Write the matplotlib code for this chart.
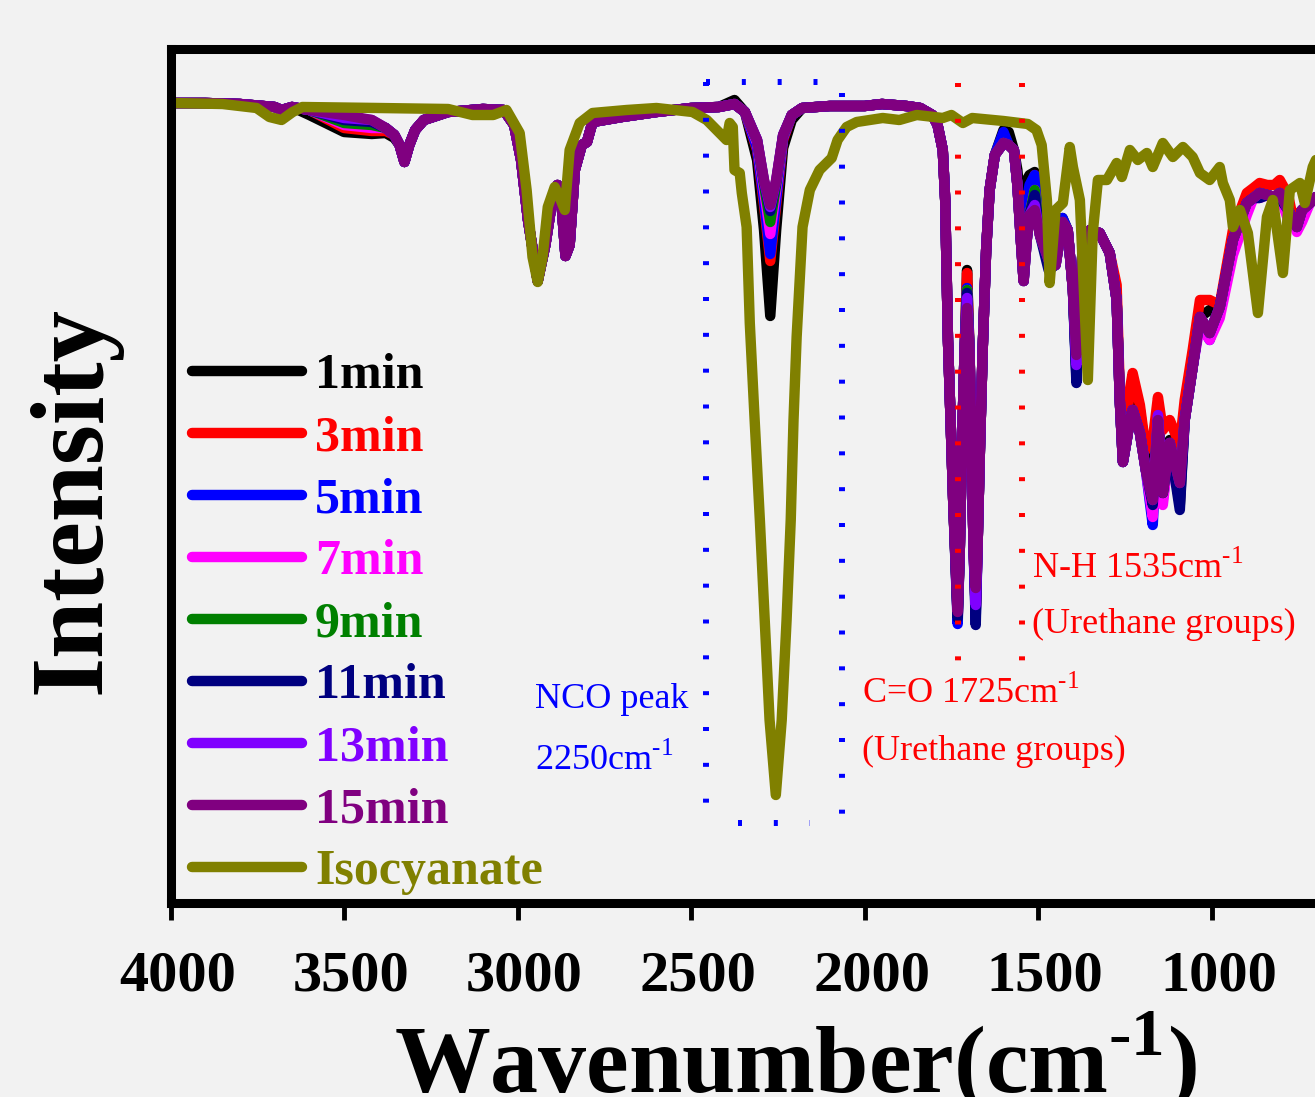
import matplotlib
matplotlib.use('Agg')
import matplotlib.pyplot as plt
import matplotlib.transforms as mtrans

plt.rcParams['font.family'] = ['Liberation Serif', 'DejaVu Serif']
plt.rcParams['mathtext.fontset'] = 'custom'
plt.rcParams['mathtext.rm'] = 'Liberation Serif'
plt.rcParams['mathtext.bf'] = 'Liberation Serif:bold'

# ---------------- data (wavenumber cm-1, intensity a.u.) ----------------
wn_cure = [4000, 3900, 3800, 3700, 3680, 3650, 3600, 3500, 3420, 3380, 3355, 3340, 3326, 3312, 3295,
           3270, 3200, 3100, 3040, 3010, 2990, 2970, 2942, 2920, 2900, 2885, 2872, 2862, 2850, 2835,
           2815, 2800, 2784, 2700, 2600, 2500, 2420, 2375, 2345, 2310, 2290, 2272, 2255, 2235, 2210,
           2180, 2100, 2000, 1950, 1880, 1840, 1805, 1790, 1775, 1768, 1760, 1745, 1732, 1726, 1720,
           1712, 1705, 1698, 1692, 1686, 1680, 1675, 1668, 1660, 1650, 1640, 1625, 1600, 1585, 1570,
           1560, 1550, 1542, 1533, 1525, 1510, 1495, 1470, 1450, 1430, 1415, 1400, 1390, 1380, 1370,
           1350, 1323, 1294, 1274, 1265, 1256, 1245, 1236, 1228, 1207, 1190, 1170, 1155, 1141, 1121,
           1092, 1078, 1055, 1034, 1006, 977, 939, 899, 880, 862, 840, 820, 804, 780, 765,
           755, 740, 717, 700]

int_15min = [807, 807, 806, 803, 800, 803, 800, 795, 790, 782, 775, 765, 748, 765, 780,
             790, 798, 801, 800, 785, 750, 690, 629, 665, 710, 725, 700, 654, 665, 740,
             765, 768, 788, 793, 798, 802, 803, 806, 798, 770, 730, 705, 730, 775, 795,
             802, 804, 804, 806, 804, 802, 795, 785, 760, 710, 570, 410, 298, 360, 460,
             560, 602, 560, 460, 360, 322, 360, 460, 560, 660, 720, 755, 767, 765, 760,
             725, 670, 629, 670, 695, 700, 675, 650, 645, 688, 680, 620, 555, 610, 675,
             680, 677, 657, 610, 510, 448, 470, 490, 500, 477, 440, 410, 490, 417, 467,
             427, 490, 543, 593, 577, 603, 670, 707, 712, 717, 715, 713, 717, 700, 690,
             683, 700, 707, 713]

# readings where the earlier scans differ from the 15 min scan
dev_1min = {3600: 795, 3500: 778, 3420: 776, 3380: 777, 3355: 772, 2375: 810,
            2310: 750, 2290: 680, 2272: 594, 2255: 680, 2235: 762, 2210: 790,
            1732: 292, 1705: 640, 1680: 298, 1600: 780, 1585: 778,
            1560: 740, 1550: 700, 1542: 640, 1533: 730, 1525: 735, 1510: 738, 1495: 700,
            1450: 690, 1430: 692, 1390: 535, 1228: 520, 1207: 500, 1190: 455, 1170: 420,
            1155: 500, 1141: 425, 1121: 470, 1092: 405, 1006: 600}
dev_3min = {3500: 782, 3420: 779, 3380: 779,
            2310: 760, 2290: 705, 2272: 649, 2255: 705, 2235: 770,
            1732: 290, 1705: 637, 1680: 298, 1600: 775,
            1533: 700, 1525: 715, 1510: 735, 1495: 690, 1450: 688, 1390: 550,
            1274: 625, 1265: 520, 1256: 455, 1245: 490, 1236: 520, 1228: 537, 1207: 505,
            1190: 460, 1170: 470, 1155: 513, 1141: 480, 1121: 490, 1092: 465, 1078: 510,
            1055: 560, 1034: 610, 1006: 610, 977: 605, 939: 680, 899: 717, 880: 722,
            862: 727, 840: 725, 820: 725, 804: 730, 780: 715, 755: 695}
dev_5min = {3500: 786, 3420: 783,
            2310: 762, 2290: 710, 2272: 656, 2255: 710, 2235: 772,
            1732: 286, 1705: 622, 1680: 292, 1600: 778,
            1533: 710, 1525: 725, 1510: 735, 1495: 690, 1450: 690, 1430: 692, 1390: 532,
            1170: 385, 1141: 410, 1092: 415, 1034: 588, 1006: 570, 755: 680}
dev_7min = {3500: 785, 3420: 782,
            2310: 767, 2290: 720, 2272: 676, 2255: 720, 2235: 773,
            1732: 298, 1705: 620, 1680: 300, 1510: 720, 1390: 540,
            1170: 393, 1141: 405, 1092: 420, 1034: 585, 1006: 570, 977: 592, 939: 655,
            899: 695, 862: 712, 804: 715, 780: 690, 755: 678, 740: 688}
dev_9min = {3500: 787, 3420: 785,
            2310: 769, 2290: 725, 2272: 688, 2255: 725, 2235: 774,
            1705: 620, 1510: 720, 1390: 538, 1170: 415}
dev_11min = {3500: 790, 3420: 788,
             2310: 770, 2290: 728, 2272: 699, 2255: 728, 2235: 775,
             1732: 292, 1705: 617, 1680: 285, 1510: 715, 1470: 640, 1390: 527,
             1170: 405, 1092: 400, 862: 712, 804: 712}
dev_13min = {3500: 792, 2290: 729, 2272: 703, 2255: 729,
             1732: 302, 1705: 612, 1680: 305, 1510: 705, 1390: 545,
             1228: 500, 1155: 495, 1141: 420}

wn_iso = [4000, 3850, 3752, 3715, 3680, 3648, 3620, 3400, 3200, 3130, 3070, 3032, 2994, 2974,
          2957, 2942, 2928, 2913, 2893, 2879, 2864, 2850, 2821, 2784, 2686, 2600, 2496, 2455,
          2398, 2389, 2380, 2375, 2360, 2354, 2340, 2331, 2317, 2302, 2288, 2274, 2256, 2239,
          2225, 2213, 2205, 2196, 2179, 2158, 2130, 2095, 2078, 2052, 2023, 1948, 1900, 1850,
          1775, 1750, 1717, 1690, 1600, 1530, 1505, 1490, 1475, 1467, 1450, 1429, 1409, 1400,
          1380, 1357, 1343, 1328, 1302, 1274, 1259, 1236, 1213, 1187, 1170, 1141, 1112, 1083,
          1055, 1034, 1006, 977, 968, 948, 939, 919, 896, 867, 841, 824, 795, 775, 746, 732,
          709, 700]
int_iso = [807, 806, 802, 793, 790, 798, 803, 802, 801, 795, 795, 800, 777, 720,
           653, 628, 653, 703, 723, 713, 700, 760, 787, 797, 800, 802, 798, 790,
           770, 787, 783, 740, 737, 717, 683, 587, 490, 390, 290, 190, 115, 190,
           290, 390, 490, 573, 683, 720, 740, 752, 770, 783, 788, 792, 790, 795,
           792, 795, 787, 792, 789, 786, 780, 765, 710, 627, 700, 707, 763, 743,
           710, 530, 677, 730, 730, 747, 733, 760, 750, 757, 743, 767, 753, 763,
           753, 737, 730, 743, 727, 710, 683, 700, 677, 597, 693, 710, 637, 720, 727, 707,
           743, 750]

labels = ['1min', '3min', '5min', '7min', '9min', '11min', '13min', '15min']
colors = ['#000000', '#FF0000', '#0000FF', '#FF00FF', '#008000', '#000080', '#8000FF', '#800080']
devs = [dev_1min, dev_3min, dev_5min, dev_7min, dev_9min, dev_11min, dev_13min, {}]

tick_vals = [4000, 3500, 3000, 2500, 2000, 1500, 1000]

# ---------------- figure ----------------
W, H = 1315, 1097
bg = '#F2F2F2'
fig = plt.figure(figsize=(W / 100, H / 100), dpi=100, facecolor=bg)
ax = fig.add_axes([170.5 / W, 1 - 903 / H, 1249.5 / W, 854 / H])
ax.set_facecolor(bg)

for lab, col, dev in zip(labels, colors, devs):
    vals = [dev.get(w, v) for w, v in zip(wn_cure, int_15min)]
    ax.plot(wn_cure, vals, color=col, lw=7.5, label=lab,
            solid_joinstyle='round', solid_capstyle='round')
ax.plot(wn_iso, int_iso, color='#808000', lw=7.5, label='Isocyanate',
        solid_joinstyle='round', solid_capstyle='round')

ax.set_xlim(4000, 400)
ax.set_ylim(7, 861)
ax.set_xticks(tick_vals)
ax.set_xticklabels([str(t) for t in tick_vals], fontweight='bold')
ax.set_yticks([])
ax.tick_params(axis='x', direction='out', length=12, width=3.5, pad=22, labelsize=42)
shift = mtrans.ScaledTranslation(7 / 100, 0, fig.dpi_scale_trans)
for lab in ax.get_xticklabels():
    lab.set_transform(lab.get_transform() + shift)
for s in ['top', 'left', 'bottom']:
    ax.spines[s].set_linewidth(6.5)
ax.spines['right'].set_visible(False)

# dotted guide boxes
dot = dict(lw=4.3, linestyle=(0, (0.67, 5.33)), zorder=5)
ax.plot([2458, 2130], [828, 828], color='#0000FF', **dot)
ax.plot([2458, 2458], [828, 105], color='#0000FF', **dot)
ax.plot([2366, 2158], [87, 87], color='#0000FF', **dot)
ax.plot([2066, 2066], [817, 94], color='#0000FF', **dot)
ax.plot([1732, 1732], [827, 249], color='#FF0000', **dot)
ax.plot([1547, 1547], [827, 249], color='#FF0000', **dot)

sup = r'$^{\mathrm{\text{-}1}}$'
fs = 26
ax.text(2950, 202, 'NCO peak', color='#0000FF', fontsize=fs, va='baseline')
ax.text(2950, 140, '2250cm' + sup, color='#0000FF', fontsize=fs, va='baseline')
ax.text(2007, 207, 'C=O 1725cm' + sup, color='#FF0000', fontsize=fs, va='baseline')
ax.text(2007, 150, '(Urethane groups)', color='#FF0000', fontsize=fs, va='baseline')
ax.text(1517, 332, 'N-H 1535cm' + sup, color='#FF0000', fontsize=fs, va='baseline')
ax.text(1517, 277, '(Urethane groups)', color='#FF0000', fontsize=fs, va='baseline')

ax.legend(loc='upper left', bbox_to_anchor=(192 / W, 1 - 353 / H), bbox_transform=fig.transFigure,
          frameon=False, prop={'weight': 'bold', 'size': 36}, handlelength=2.2,
          handletextpad=0.26, labelspacing=0.32, borderpad=0, borderaxespad=0,
          labelcolor='linecolor')

fig.text(795 / W, 1 - 1092 / H, r'Wavenumber(cm$^{\mathbf{\text{-}1}}$)', fontsize=69,
         fontweight='bold', ha='center', va='baseline')
fig.text(75 / W, 1 - 500 / H, 'Intensity', rotation=90, fontsize=74,
         fontweight='bold', ha='center', va='center')

fig.savefig('out.png', dpi=100, facecolor=bg)
